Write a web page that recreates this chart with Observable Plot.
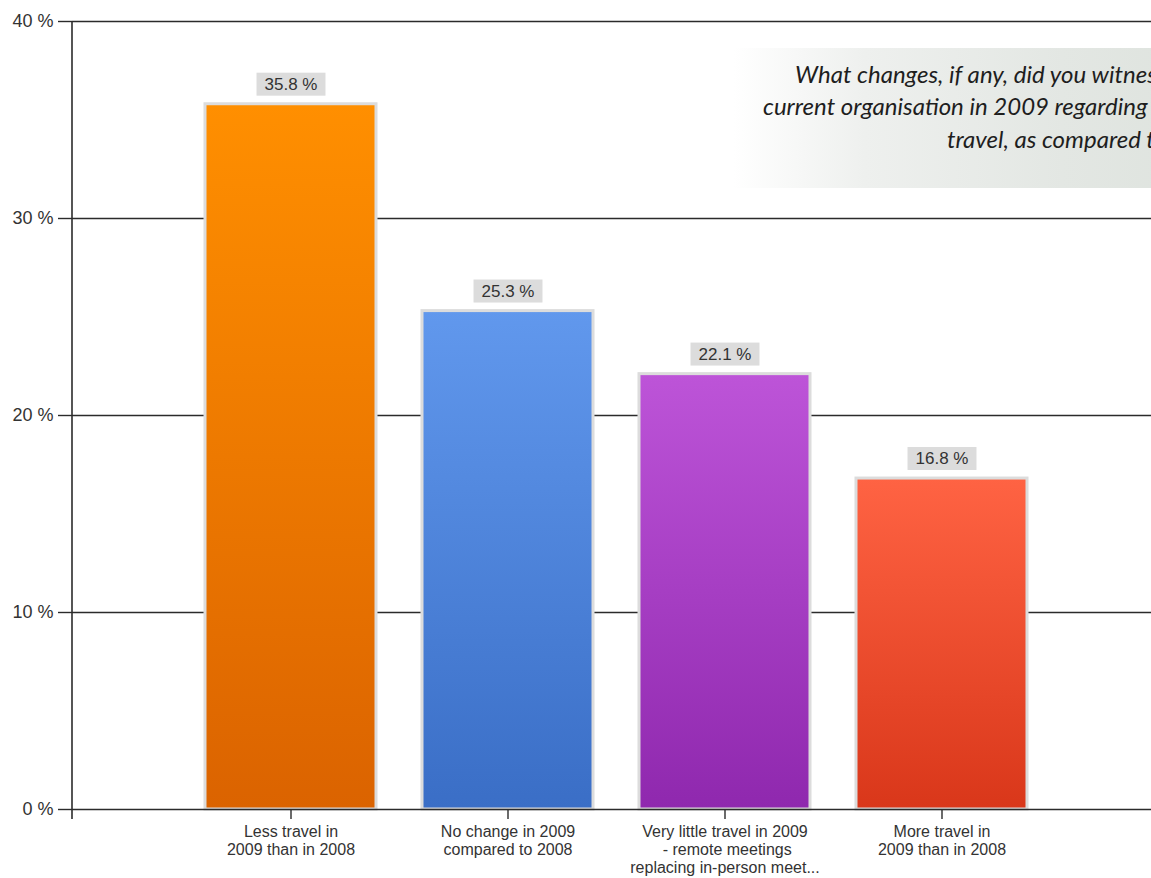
<!DOCTYPE html>
<html>
<head>
<meta charset="utf-8">
<script src="https://cdn.jsdelivr.net/npm/d3@7"></script>
<script src="https://cdn.jsdelivr.net/npm/@observablehq/plot@0.6"></script>
<style>
  html, body { margin: 0; padding: 0; background: #fff; width: 1151px; height: 878px; overflow: hidden; }
  #wrap { position: relative; width: 1151px; height: 878px; overflow: hidden; }
  #chart svg { display: block; }
  #titlebox { position: absolute; left: 733px; top: 48px; width: 440px; height: 140px;
    background: linear-gradient(to right, rgba(255,255,255,1) 0%, #eef0ee 30%, #e3e7e3 75%, #dfe4df 100%); }
  .tl { position: absolute; white-space: nowrap; font-family: Lato, "Open Sans", sans-serif; font-style: italic;
    font-size: 24px; color: #1e1e1e; line-height: 1; }
</style>
</head>
<body>
<div id="wrap">
  <div id="chart"></div>
  <div id="titlebox"></div>
  <div class="tl" style="left:795px; top:62px;">What changes, if any, did you witness</div>
  <div class="tl" style="left:763px; top:94px;">current organisation in 2009 regarding</div>
  <div class="tl" style="left:947px; top:127px;">travel, as compared to</div>
</div>
<script>
// ---- data ----
const categories = [
  "Less travel in\n2009 than in 2008",
  "No change in 2009\ncompared to 2008",
  "Very little travel in 2009\n - remote meetings\nreplacing in-person meet...",
  "More travel in\n2009 than in 2008"
];
const values = [35.8, 25.3, 22.1, 16.8];
const valueLabels = ["35.8 %", "25.3 %", "22.1 %", "16.8 %"];
const yTicks = [0, 10, 20, 30, 40];
const yTickLabels = ["0 %", "10 %", "20 %", "30 %", "40 %"];
const gradientTop = ["#ff8f00", "#6198ed", "#bd54d8", "#ff6343"];
const gradientBottom = ["#db6300", "#3a6ec6", "#8f28ae", "#d9371a"];

const data = categories.map((c, i) => ({cat: c, value: values[i], label: valueLabels[i]}));

// ---- layout ----
const W = 1151, H = 878, mL = 72, mT = 21, mB = 69;
const step = 217.5;
const pInner = 0.21;

const defs = () => {
  const d = d3.create("svg:defs");
  categories.forEach((c, i) => {
    const g = d.append("linearGradient").attr("id", `grad${i}`)
      .attr("x1", 0).attr("y1", 0).attr("x2", 0).attr("y2", 1);
    g.append("stop").attr("offset", "0%").attr("stop-color", gradientTop[i]);
    g.append("stop").attr("offset", "100%").attr("stop-color", gradientBottom[i]);
  });
  return d.node();
};

const plot = Plot.plot({
  width: W, height: H,
  marginLeft: mL, marginRight: 0, marginTop: mT, marginBottom: mB,
  style: {fontFamily: "'Liberation Sans', Arial, sans-serif", fontSize: "16px", color: "#333", background: "transparent", overflow: "visible"},
  x: {domain: categories, range: [mL, mL + 5 * step], paddingInner: pInner, paddingOuter: (1 + pInner) / 2, axis: null, label: null},
  y: {domain: [0, 40], range: [H - mB, mT], axis: null, label: null},
  color: {domain: categories, range: categories.map((_, i) => `url(#grad${i})`)},
  marks: [
    defs,
    Plot.ruleY(yTicks.filter(d => d > 0), {stroke: "#2b2b2b", strokeWidth: 1.6}),
    Plot.barY(data, {x: "cat", y: "value", fill: "cat", stroke: "#dcdcdc", strokeWidth: 3}),
    Plot.ruleY([0], {stroke: "#2b2b2b", strokeWidth: 1.6}),
    Plot.axisY(yTicks, {tickSize: 14, tickPadding: 5, stroke: "#2b2b2b", strokeWidth: 1.4, fill: "#333",
      fontSize: 18, tickFormat: d => yTickLabels[yTicks.indexOf(d)]}),
    Plot.axisX({tickSize: 10, tickPadding: 5, stroke: "#2b2b2b", strokeWidth: 1.4, fill: "#333",
      fontSize: 16, lineHeight: 1.12, textAnchor: "middle"}),
    Plot.text(data, {x: "cat", y: "value", text: "label", dy: -20, fill: "#333", fontSize: 17, lineAnchor: "middle"})
  ]
});

document.getElementById("chart").appendChild(plot);

// y-axis line (at the start of the x range, spanning the y range)
const svg = d3.select(plot);
const xr = plot.scale("x").range, yr = plot.scale("y").range;
svg.append("line")
  .attr("x1", xr[0]).attr("x2", xr[0])
  .attr("y1", yr[1]).attr("y2", yr[0] + 10)
  .attr("stroke", "#2b2b2b").attr("stroke-width", 1.6);

// grey boxes behind the value labels
const labelNodes = svg.selectAll("text").filter(function () {
  return valueLabels.includes(this.textContent.trim());
}).nodes();
labelNodes.forEach(node => {
  const b = node.getBBox();
  const padX = 8, h = 23;
  const rect = document.createElementNS("http://www.w3.org/2000/svg", "rect");
  rect.setAttribute("x", b.x - padX);
  rect.setAttribute("y", b.y + b.height / 2 - h / 2);
  rect.setAttribute("width", b.width + 2 * padX);
  rect.setAttribute("height", h);
  rect.setAttribute("fill", "#dcdcdc");
  const t = node.getAttribute("transform");
  if (t) rect.setAttribute("transform", t);
  node.parentNode.insertBefore(rect, node);
});
</script>
</body>
</html>
